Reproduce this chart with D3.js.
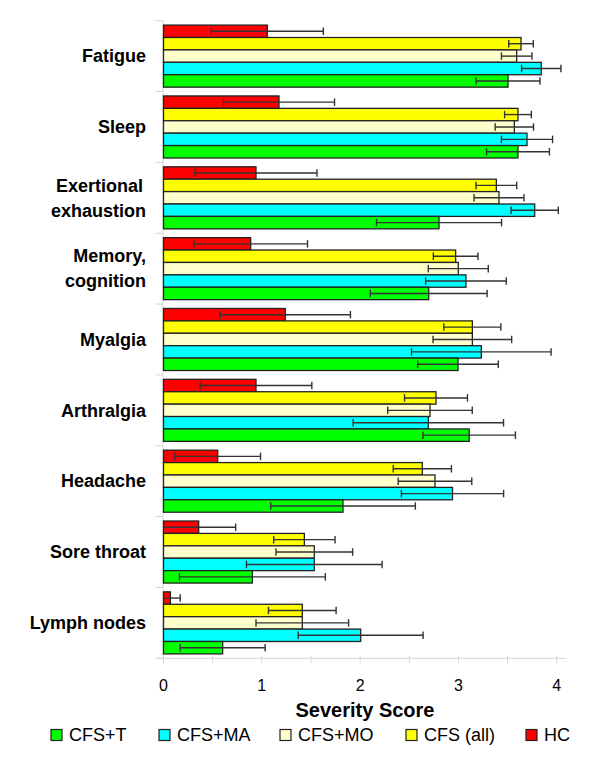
<!DOCTYPE html>
<html>
<head>
<meta charset="utf-8">
<script src="https://cdn.jsdelivr.net/npm/d3@7"></script>
<style>
  html, body { margin: 0; padding: 0; background: #fff; }
  svg { display: block; font-family: "Liberation Sans", Arial, sans-serif; }
</style>
</head>
<body>
<svg id="chart" width="600" height="776"></svg>
<script>
// ---- data ----
const categories = ["Fatigue", "Sleep", "Exertional\nexhaustion", "Memory,\ncognition", "Myalgia", "Arthralgia", "Headache", "Sore throat", "Lymph nodes"];
const seriesNames = ["HC", "CFS (all)", "CFS+MO", "CFS+MA", "CFS+T"]; // top-to-bottom within a group
const legendOrder = ["CFS+T", "CFS+MA", "CFS+MO", "CFS (all)", "HC"];
const xTicks = [0, 1, 2, 3, 4];

const hcValues     = [1.056, 1.175, 0.941, 0.887, 1.239, 0.941, 0.551, 0.358, 0.070];
const hcSD         = [0.570, 0.565, 0.620, 0.578, 0.663, 0.568, 0.436, 0.376, 0.100];
const cfsAllValues = [3.637, 3.606, 3.386, 2.972, 3.142, 2.772, 2.633, 1.433, 1.412];
const cfsAllSD     = [0.125, 0.136, 0.207, 0.227, 0.290, 0.320, 0.296, 0.312, 0.344];
const cfsMOValues  = [3.593, 3.569, 3.413, 2.999, 3.142, 2.711, 2.762, 1.534, 1.412];
const cfsMOSD      = [0.155, 0.195, 0.254, 0.305, 0.400, 0.430, 0.374, 0.390, 0.471];
const cfsMAValues  = [3.843, 3.698, 3.776, 3.077, 3.233, 2.694, 2.940, 1.534, 2.006];
const cfsMASD      = [0.200, 0.260, 0.240, 0.410, 0.710, 0.765, 0.520, 0.690, 0.635];
const cfsTValues   = [3.505, 3.606, 2.803, 2.698, 2.996, 3.110, 1.826, 0.904, 0.602];
const cfsTSD       = [0.325, 0.320, 0.636, 0.594, 0.410, 0.470, 0.736, 0.742, 0.432];

const colors = {"HC": "#ff0000", "CFS (all)": "#ffff00", "CFS+MO": "#ffffcc", "CFS+MA": "#00ffff", "CFS+T": "#00ff00"};
const valueMap = {"HC": hcValues, "CFS (all)": cfsAllValues, "CFS+MO": cfsMOValues, "CFS+MA": cfsMAValues, "CFS+T": cfsTValues};
const sdMap = {"HC": hcSD, "CFS (all)": cfsAllSD, "CFS+MO": cfsMOSD, "CFS+MA": cfsMASD, "CFS+T": cfsTSD};

const rows = [];
categories.forEach((c, i) => {
  seriesNames.forEach(s => rows.push({cat: c, series: s, value: valueMap[s][i], sd: sdMap[s][i]}));
});

// ---- layout ----
const svg = d3.select("#chart");
const x = d3.scaleLinear().domain([0, 4]).range([163.5, 556.7]);
const y0 = d3.scaleBand().domain(categories).range([20.7, 658.3]).padding(0);
const y1 = d3.scaleBand().domain(seriesNames).range([0, y0.bandwidth()]).paddingInner(0).paddingOuter(0.355);

const axisColor = "#d4d4d4";

// y axis line with group separator ticks
svg.append("line").attr("x1", x(0) - 0.5).attr("x2", x(0) - 0.5)
  .attr("y1", y0.range()[0]).attr("y2", y0.range()[1])
  .attr("stroke", axisColor).attr("stroke-width", 1);
const sepPos = categories.map(c => y0(c)).concat([y0.range()[1]]);
svg.selectAll(".ysep").data(sepPos).enter().append("line")
  .attr("x1", x(0) - 8).attr("x2", x(0) - 0.5)
  .attr("y1", d => d).attr("y2", d => d)
  .attr("stroke", axisColor).attr("stroke-width", 1);

// x axis line and ticks
svg.append("line").attr("x1", x(0) - 7).attr("x2", x(4) + 10)
  .attr("y1", y0.range()[1]).attr("y2", y0.range()[1])
  .attr("stroke", axisColor).attr("stroke-width", 1);
const minorTicks = d3.range(0, 4.01, 0.5);
svg.selectAll(".xt").data(minorTicks).enter().append("line")
  .attr("x1", d => x(d)).attr("x2", d => x(d))
  .attr("y1", y0.range()[1] - 2).attr("y2", y0.range()[1] + 5)
  .attr("stroke", axisColor).attr("stroke-width", 1);
svg.selectAll(".xl").data(xTicks).enter().append("text")
  .attr("x", d => x(d)).attr("y", 685).attr("dy", "0.35em")
  .attr("text-anchor", "middle").attr("font-size", 16).attr("fill", "#000")
  .text(d => d);

// axis title
svg.append("text").attr("x", 365).attr("y", 710).attr("dy", "0.35em")
  .attr("text-anchor", "middle").attr("font-size", 20).attr("font-weight", "bold")
  .text("Severity Score");

// bars
const g = svg.append("g");
g.selectAll("rect.bar").data(rows).enter().append("rect")
  .attr("class", "bar")
  .attr("x", x(0))
  .attr("y", d => y0(d.cat) + y1(d.series))
  .attr("width", d => x(d.value) - x(0))
  .attr("height", y1.bandwidth())
  .attr("fill", d => colors[d.series])
  .attr("stroke", "#222").attr("stroke-width", 1.3);

// error bars
const errColor = "#333";
const capH = 7.5;
const eb = g.selectAll("g.err").data(rows).enter().append("g").attr("class", "err");
eb.append("line")
  .attr("x1", d => x(Math.max(0, d.value - d.sd))).attr("x2", d => x(d.value + d.sd))
  .attr("y1", d => y0(d.cat) + y1(d.series) + y1.bandwidth() / 2)
  .attr("y2", d => y0(d.cat) + y1(d.series) + y1.bandwidth() / 2)
  .attr("stroke", errColor).attr("stroke-width", 1.4);
eb.filter(d => d.value - d.sd > 0).append("line")
  .attr("x1", d => x(d.value - d.sd)).attr("x2", d => x(d.value - d.sd))
  .attr("y1", d => y0(d.cat) + y1(d.series) + y1.bandwidth() / 2 - capH / 2)
  .attr("y2", d => y0(d.cat) + y1(d.series) + y1.bandwidth() / 2 + capH / 2)
  .attr("stroke", errColor).attr("stroke-width", 1.4);
eb.append("line")
  .attr("x1", d => x(d.value + d.sd)).attr("x2", d => x(d.value + d.sd))
  .attr("y1", d => y0(d.cat) + y1(d.series) + y1.bandwidth() / 2 - capH / 2)
  .attr("y2", d => y0(d.cat) + y1(d.series) + y1.bandwidth() / 2 + capH / 2)
  .attr("stroke", errColor).attr("stroke-width", 1.4);

// category labels
categories.forEach(c => {
  const lines = c.split("\n");
  const cy = y0(c) + y0.bandwidth() / 2;
  const lh = 25;
  lines.forEach((ln, i) => {
    svg.append("text")
      .attr("x", 146 - (lines.length > 1 && i === 0 && ln === "Exertional" ? 3 : 0))
      .attr("y", cy + (i - (lines.length - 1) / 2) * lh)
      .attr("dy", "0.35em")
      .attr("text-anchor", "end").attr("font-size", 18).attr("font-weight", "bold")
      .attr("fill", "#000")
      .text(ln);
  });
});

// legend
const legendX = [51, 159, 280, 406, 526];
const legendY = 735;
const lg = svg.selectAll("g.leg").data(legendOrder).enter().append("g").attr("class", "leg")
  .attr("transform", (d, i) => `translate(${legendX[i]},${legendY})`);
lg.append("rect").attr("x", 0).attr("y", -5.5).attr("width", 11).attr("height", 11)
  .attr("fill", d => colors[d]).attr("stroke", "#222").attr("stroke-width", 1.2);
lg.append("text").attr("x", 18).attr("y", 0).attr("dy", "0.35em")
  .attr("font-size", 18).attr("fill", "#000").text(d => d);
</script>
</body>
</html>
